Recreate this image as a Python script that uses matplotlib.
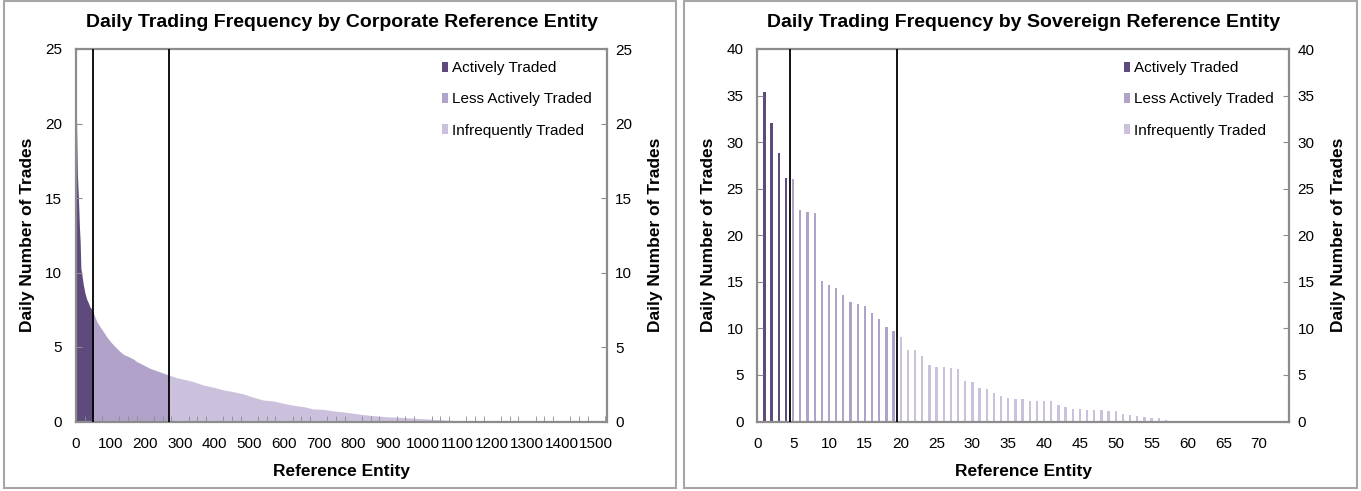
import numpy as np
import matplotlib
matplotlib.use("Agg")
import matplotlib.pyplot as plt
from matplotlib.patches import Patch, Rectangle
from matplotlib.ticker import MultipleLocator, FixedLocator

plt.rcParams['font.family'] = ['Liberation Sans', 'DejaVu Sans']

DARK = '#5f4a7d'
MID = '#b1a2c9'
LIGHT = '#cbc1dc'
AXGRAY = '#8c8c8c'

legend_labels = ['Actively Traded', 'Less Actively Traded', 'Infrequently Traded']

# corporate: rank of reference entity -> daily number of trades
corp_rank = [0, 1, 2, 4, 7, 10, 12, 14, 17, 21, 26, 31, 36, 40, 45, 50,
             60, 69, 79, 88, 98, 108, 117, 127, 137, 151, 165, 175, 194, 213, 233, 252, 268,
             290, 319, 338, 367, 396, 425, 454, 483, 511, 540, 569, 598, 627, 656, 684,
             713, 742, 771, 800, 829, 857, 896, 934, 1025, 1092, 1530]
corp_trades = [22.0, 21.0, 19.4, 16.6, 15.0, 13.0, 12.1, 10.3, 9.85, 9.2, 8.6, 8.2, 7.95, 7.7, 7.55, 7.3,
               6.7, 6.37, 6.03, 5.7, 5.4, 5.14, 4.92, 4.7, 4.5, 4.36, 4.2, 4.02, 3.8, 3.57, 3.41, 3.24, 3.12,
               2.94, 2.79, 2.68, 2.45, 2.3, 2.12, 2.0, 1.85, 1.63, 1.44, 1.38, 1.22, 1.09, 1.0, 0.84,
               0.82, 0.71, 0.64, 0.55, 0.46, 0.39, 0.32, 0.28, 0.15, 0.07, 0.07]
corp_cuts = [50, 268]

# sovereign: one bar per reference entity (1, 2, 3, ...)
sov_trades = [35.4, 32.1, 28.85, 26.1, 26.0, 22.7, 22.5, 22.4, 15.1, 14.7, 14.3, 13.6,
              12.8, 12.65, 12.4, 11.7, 11.05, 10.1, 9.7, 9.1, 7.65, 7.65, 7.0, 6.05,
              5.9, 5.8, 5.75, 5.6, 4.4, 4.2, 3.6, 3.5, 3.1, 2.7, 2.5, 2.45, 2.45, 2.25,
              2.15, 2.15, 2.15, 1.75, 1.55, 1.3, 1.3, 1.25, 1.2, 1.2, 1.1, 1.1, 0.85,
              0.75, 0.55, 0.5, 0.35, 0.35, 0.12, 0.08, 0.05, 0.04, 0.03, 0.02]
sov_cuts = [4.5, 19.5]

W, H = 1361, 491
fig = plt.figure(figsize=(W / 100, H / 100), dpi=100)

# chart-area borders
for x0, x1 in [(4, 676), (684, 1357)]:
    fig.patches.append(Rectangle((x0 / W, 3 / H), (x1 - x0) / W, 487 / H,
                                 transform=fig.transFigure, fill=False,
                                 edgecolor='#a6a6a6', lw=1.5))

ax1 = fig.add_axes([76 / W, 1 - 421.5 / H, 531 / W, 372.5 / H])
ax2 = fig.add_axes([757.3 / W, 1 - 421.5 / H, 532 / W, 372.5 / H])

# corporate area
r = np.array(corp_rank)
v = np.array(corp_trades)
bounds = [0] + corp_cuts + [r[-1]]
for lo, hi, c in zip(bounds[:-1], bounds[1:], [DARK, MID, LIGHT]):
    m = (r >= lo) & (r <= hi)
    ax1.fill_between(r[m], v[m], color=c, lw=0)
ax1.set_xlim(0, 1531)

# sovereign bars
idx = np.arange(1, len(sov_trades) + 1)
cols = [DARK if i < sov_cuts[0] else (MID if i < sov_cuts[1] else LIGHT) for i in idx]
ax2.bar(idx, sov_trades, width=0.32, color=cols, lw=0)
ax2.set_xlim(0, 74.2)

setup = [
    (ax1, 'Daily Trading Frequency by Corporate Reference Entity', 25, 5, corp_cuts,
     range(0, 1501, 100), 25),
    (ax2, 'Daily Trading Frequency by Sovereign Reference Entity', 40, 5, sov_cuts,
     range(0, 71, 5), None),
]

for ax, title, ymax, ystep, cuts, xt, minor in setup:
    for c in cuts:
        ax.axvline(c, color='black', lw=1.3, zorder=3)
    ax.set_ylim(0, ymax)
    ax.set_yticks(range(0, ymax + 1, ystep))
    ax.set_xticks(list(xt))
    for s in ax.spines.values():
        s.set_color(AXGRAY)
        s.set_linewidth(1.6)
    ax.tick_params(axis='y', direction='in', length=4, color=AXGRAY, labelsize=11, pad=10)
    ax.tick_params(axis='x', which='major', length=0, labelsize=11, pad=11)
    if minor:
        ax.xaxis.set_minor_locator(MultipleLocator(minor))
    else:
        ax.xaxis.set_minor_locator(FixedLocator([25, 50]))
    ax.tick_params(axis='x', which='minor', direction='in', length=4, color=AXGRAY)

    tw = ax.twinx()
    tw.set_ylim(0, ymax)
    tw.set_yticks(range(0, ymax + 1, ystep))
    tw.tick_params(axis='y', direction='in', length=4, color=AXGRAY, labelsize=11, pad=6)
    for s in tw.spines.values():
        s.set_visible(False)

    ax.text(0.5, 1.072, title, transform=ax.transAxes, ha='center', va='center',
            fontsize=14, fontweight='bold')
    ax.text(0.5, -0.133, 'Reference Entity', transform=ax.transAxes, ha='center',
            va='center', fontsize=12.5, fontweight='bold')
    ax.text(-0.091, 0.5, 'Daily Number of Trades', transform=ax.transAxes, ha='center',
            va='center', rotation=90, fontsize=12.5, fontweight='bold')
    ax.text(1.092, 0.5, 'Daily Number of Trades', transform=ax.transAxes, ha='center',
            va='center', rotation=90, fontsize=12.5, fontweight='bold')

    handles = [Patch(facecolor=c, edgecolor='none') for c in (DARK, MID, LIGHT)]
    ax.legend(handles, legend_labels, loc='upper left', bbox_to_anchor=(0.69, 0.967),
              frameon=False, fontsize=11, handlelength=0.35, handleheight=0.6,
              handletextpad=0.3, labelspacing=1.12, borderpad=0, borderaxespad=0)

fig.savefig('out.png', dpi=100)
